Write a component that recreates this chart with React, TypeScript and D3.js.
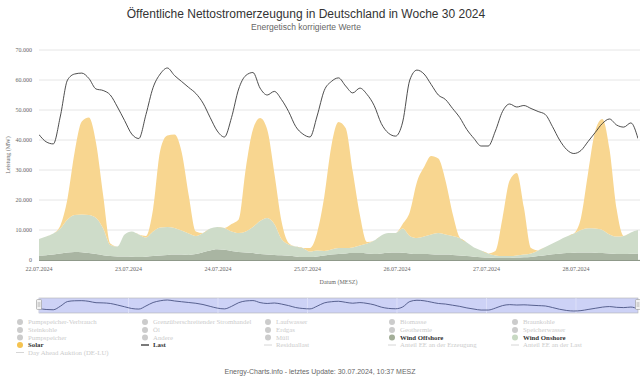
import React from 'react';
import * as d3 from 'd3';

const STEP_HOURS = 2;
const dateLabels = ['22.07.2024', '23.07.2024', '24.07.2024', '25.07.2024', '26.07.2024', '27.07.2024', '28.07.2024'];
const yTicks = [0, 10000, 20000, 30000, 40000, 50000, 60000, 70000];

const load = [41800,39400,38700,48000,60000,62000,62300,60500,57000,56500,55000,51000,
 46500,42000,40500,48500,57500,62000,64000,61500,59500,57500,55500,52300,
 47500,43000,41000,47500,57000,61500,62500,57300,55000,56200,53500,49500,
 44500,42000,41000,48000,56500,59500,60700,58000,55700,57300,55200,51500,
 45500,42300,41300,46000,60000,63300,62000,58500,55000,53500,50500,47500,
 43500,40500,38000,38000,43000,49500,52000,51000,51500,50500,49500,48500,
 44500,40000,36800,35500,36500,39500,42500,45500,47000,45000,44300,45700,
 40500];

const solar = [0,0,0,1000,7000,21000,31000,32500,25000,11000,500,0,
 0,0,0,500,7500,25700,30500,31100,26200,12700,1500,0,
 0,0,0,2500,4500,21000,32500,34300,29500,17000,6000,500,
 0,0,1200,5800,18000,34500,42000,40000,25300,10200,500,0,
 0,0,0,1500,8000,18700,23200,26200,24800,18000,7500,200,
 0,0,0,0,1500,12700,25200,27500,15700,1800,0,0,
 0,0,0,0,4000,18400,32500,37000,28500,9200,0,0,
 0];

const windOnshore = [5500,6200,7000,8300,11000,12300,12600,12700,12000,8900,3700,3300,
 7300,8400,7500,6400,8200,9300,9300,8900,8000,7100,6000,6400,
 7300,7400,7300,6500,6300,7000,8700,11000,12200,10300,5400,3800,
 3300,3000,1800,2000,1500,1700,2000,1800,1900,2500,3300,4500,
 6000,6600,6500,8100,5800,5300,5800,6600,7200,6700,6300,5800,
 4500,3100,2300,1400,800,600,600,700,900,1200,1900,2700,
 3600,4600,5500,6400,7500,8100,8100,7700,6300,5800,6000,7100,
 7800];

const windOffshore = [1500,1600,1800,2200,2500,2700,2600,2300,2000,1600,1300,1200,
 1200,1100,1000,1100,1300,1500,1700,1800,1800,1700,2000,2600,
 3200,3600,3400,3000,2700,2500,2300,2000,1800,1700,1600,1400,
 1200,1000,1000,1200,1500,1800,2000,2200,2300,2300,2200,2000,
 2200,2400,2500,2400,2200,2000,2000,1900,1800,1800,1700,1500,
 1300,1100,900,800,700,700,700,800,900,1000,1300,1600,
 1900,2100,2300,2400,2500,2500,2400,2300,2200,2000,2000,2100,
 2200];

type LegendItem = { label: string; kind: 'dot' | 'line'; color?: string; active?: boolean };
const legendRows: LegendItem[][] = [
  [{ label: 'Pumpspeicher-Verbrauch', kind: 'dot' }, { label: 'Grenzüberschreitender Stromhandel', kind: 'dot' }, { label: 'Laufwasser', kind: 'dot' }, { label: 'Biomasse', kind: 'dot' }, { label: 'Braunkohle', kind: 'dot' }],
  [{ label: 'Steinkohle', kind: 'dot' }, { label: 'Öl', kind: 'dot' }, { label: 'Erdgas', kind: 'dot' }, { label: 'Geothermie', kind: 'dot' }, { label: 'Speicherwasser', kind: 'dot' }],
  [{ label: 'Pumpspeicher', kind: 'dot' }, { label: 'Andere', kind: 'dot' }, { label: 'Müll', kind: 'dot' }, { label: 'Wind Offshore', kind: 'dot', color: '#a3ae98', active: true }, { label: 'Wind Onshore', kind: 'dot', color: '#c8d9c3', active: true }],
  [{ label: 'Solar', kind: 'dot', color: '#f5c350', active: true }, { label: 'Last', kind: 'line', color: '#222', active: true }, { label: 'Residuallast', kind: 'line' }, { label: 'Anteil EE an der Erzeugung', kind: 'line' }, { label: 'Anteil EE an der Last', kind: 'line' }],
  [{ label: 'Day Ahead Auktion (DE-LU)', kind: 'line' }],
];

const W = 640, H = 381;
const PL = 39, PR = 638, PT = 50, PB = 260;
const SERIF = '"Liberation Serif", "Times New Roman", serif';
const SANS = '"Liberation Sans", Arial, sans-serif';

export default function App() {
  const hours = load.map((_, i) => i * STEP_HOURS);
  const x = d3.scaleLinear().domain([0, 168]).range([PL, PR]);
  const y = d3.scaleLinear().domain([0, 70000]).range([PB, PT]);
  const tickX = d3.scaleLinear().domain([0, 6]).range([39, 576]);

  const rows = hours.map((h, i) => ({ h, off: windOffshore[i], on: windOnshore[i], sol: solar[i] }));
  const stack = d3.stack<any>().keys(['off', 'on', 'sol'])(rows);
  const area = d3.area<any>()
    .x((d) => x(d.data.h))
    .y0((d) => y(d[0]))
    .y1((d) => y(d[1]))
    .curve(d3.curveMonotoneX);
  const fills = ['#a9b5a2', '#cedcc9', '#f8d690'];

  const line = d3.line<number>()
    .x((_, i) => x(hours[i]))
    .y((d) => y(d))
    .curve(d3.curveMonotoneX);

  const NT = 298, NB = 313;
  const ny = d3.scaleLinear().domain([d3.min(load)!, d3.max(load)!]).range([NB - 2, NT + 2]);
  const navLine = d3.line<number>()
    .x((_, i) => x(hours[i]))
    .y((d) => ny(d))
    .curve(d3.curveMonotoneX);

  const colX = [20, 145, 268, 392, 515];
  const rowY = [322, 330, 337.5, 345, 352.5];

  return (
    <svg width={W} height={H} style={{ position: 'absolute', left: 0, top: 0, background: '#fff' }}>
      <defs>
        <clipPath id="plot"><rect x={PL} y={PT - 5} width={PR - PL} height={PB - PT + 5} /></clipPath>
      </defs>
      <text x={306} y={18} textAnchor="middle" fontFamily={SANS} fontSize={12} fill="#333">Öffentliche Nettostromerzeugung in Deutschland in Woche 30 2024</text>
      <text x={306} y={30} textAnchor="middle" fontFamily={SANS} fontSize={8.5} fill="#666">Energetisch korrigierte Werte</text>

      {yTicks.map((t) => (
        <g key={t}>
          <line x1={PL} x2={W} y1={y(t)} y2={y(t)} stroke="#e6e6e6" strokeWidth={1} />
          <text x={32} y={y(t) + 2} textAnchor="end" fontFamily={SERIF} fontSize={6} fill="#666">{d3.format(',')(t).replace(/,/g, '.')}</text>
        </g>
      ))}
      <text transform={`translate(10,${(PT + PB) / 2}) rotate(-90)`} textAnchor="middle" fontFamily={SERIF} fontSize={6} fill="#666">Leistung (MW)</text>

      <g clipPath="url(#plot)">
        {stack.map((s, i) => (
          <path key={i} d={area(s as any) || ''} fill={fills[i]} />
        ))}
        <path d={line(load) || ''} fill="none" stroke="#3a3a3a" strokeWidth={0.9} />
      </g>
      <line x1={PL} x2={W} y1={PB + 0.5} y2={PB + 0.5} stroke="#8f998a" strokeWidth={1} />

      {dateLabels.map((d, i) => (
        <text key={d} x={tickX(i)} y={271} textAnchor="middle" fontFamily={SERIF} fontSize={6} fill="#666">{d}</text>
      ))}
      <text x={(PL + PR) / 2} y={284} textAnchor="middle" fontFamily={SERIF} fontSize={6} fill="#666">Datum (MESZ)</text>

      <rect x={PL} y={NT} width={PR - PL} height={NB - NT} fill="#cdd2f6" stroke="#b3b3b3" strokeWidth={0.6} />
      {dateLabels.map((d, i) => (
        <line key={d} x1={tickX(i)} x2={tickX(i)} y1={NT} y2={NB} stroke="#dfe2fa" strokeWidth={0.8} />
      ))}
      <path d={navLine(load) || ''} fill="none" stroke="#4a5383" strokeWidth={0.9} />
      {[PL, PR].map((hx) => (
        <g key={hx}>
          <rect x={hx - 2.5} y={NT + 1.5} width={5} height={10} rx={1} fill="#f2f2f2" stroke="#999" strokeWidth={0.6} />
          <line x1={hx - 0.8} x2={hx - 0.8} y1={NT + 4} y2={NT + 9} stroke="#999" strokeWidth={0.5} />
          <line x1={hx + 0.8} x2={hx + 0.8} y1={NT + 4} y2={NT + 9} stroke="#999" strokeWidth={0.5} />
        </g>
      ))}

      {legendRows.map((row, r) => row.map((it, c) => {
        const mx = colX[c], my = rowY[r];
        const col = it.active ? it.color! : '#cccccc';
        return (
          <g key={`${r}-${c}`}>
            {it.kind === 'dot'
              ? <circle cx={mx} cy={my} r={3} fill={col} />
              : <line x1={mx - 4} x2={mx + 4} y1={my} y2={my} stroke={col} strokeWidth={it.active ? 1.2 : 0.8} />}
            <text x={mx + 8} y={my + 2.2} fontFamily={SERIF} fontSize={6.8} fontWeight={it.active ? 'bold' : 'normal'} fill={it.active ? '#333' : '#cccccc'}>{it.label}</text>
          </g>
        );
      }))}

      <text x={320} y={374} textAnchor="middle" fontFamily={SANS} fontSize={7} fill="#666">Energy-Charts.info - letztes Update: 30.07.2024, 10:37 MESZ</text>
    </svg>
  );
}
